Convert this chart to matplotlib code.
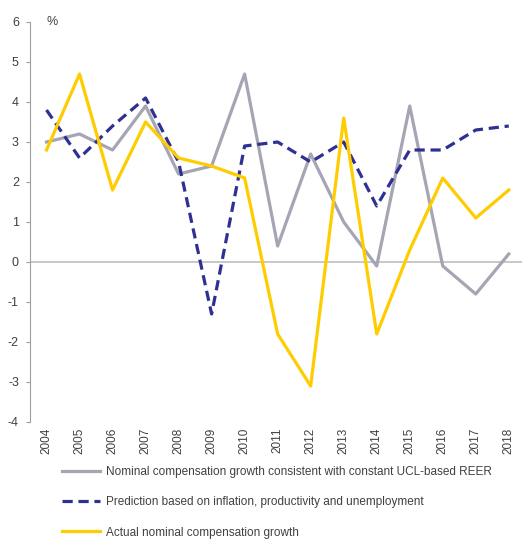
import matplotlib
matplotlib.use("Agg")
import matplotlib.pyplot as plt
import numpy as np

plt.rcParams['font.family'] = ['Liberation Sans', 'DejaVu Sans']

years = [str(y) for y in range(2004, 2019)]
consistent = [3.0, 3.2, 2.8, 3.9, 2.2, 2.4, 4.7, 0.4, 2.7, 1.0, -0.1, 3.9, -0.1, -0.8, 0.2]
prediction = [3.8, 2.6, 3.4, 4.1, 2.5, -1.3, 2.9, 3.0, 2.5, 3.0, 1.4, 2.8, 2.8, 3.3, 3.4]
actual = [2.8, 4.7, 1.8, 3.5, 2.6, 2.4, 2.1, -1.8, -3.1, 3.6, -1.8, 0.3, 2.1, 1.1, 1.8]
yticks = list(range(-4, 7))

labels = ["Nominal compensation growth consistent with constant UCL-based REER",
          "Prediction based on inflation, productivity and unemployment",
          "Actual nominal compensation growth"]

txt = '#404040'
fig = plt.figure(figsize=(5.22, 5.39), dpi=100)
ax = fig.add_axes([30/522, 1-422/539, 1-30/522, 400/539])

x = np.arange(len(years))
ax.axhline(0, color='#bfbfbf', lw=1.2, zorder=1)
ax.plot(x, consistent, color='#a5a5b4', lw=2.3, label=labels[0], zorder=2)
ax.plot(x, prediction, color='#2e3192', lw=2.3, ls=(0, (3.2, 1.8)), label=labels[1], zorder=3)
ax.plot(x, actual, color='#ffcc00', lw=2.3, label=labels[2], zorder=4)

ax.set_xlim(-0.5, 14.4)
ax.set_ylim(-4, 6)
ax.set_yticks(yticks)
ax.set_yticklabels([str(v) for v in yticks])
ax.set_xticks(x)
ax.set_xticklabels(years, rotation=90, fontsize=8.5, color=txt)
ax.tick_params(axis='y', labelsize=9, colors=txt, length=3, color='#a0a0a0', pad=5)
ax.tick_params(axis='x', length=0, pad=4)
for s in ['top', 'right', 'bottom']:
    ax.spines[s].set_visible(False)
ax.spines['left'].set_color('#a0a0a0')
ax.text(0.0, 6, '%', fontsize=9, color=txt, va='center', ha='left')

leg = fig.legend(loc='upper left', bbox_to_anchor=(62/522, 1-466/539), frameon=False,
                 fontsize=8.5, handlelength=3.2, labelspacing=1.55, handletextpad=0.5,
                 borderpad=0, borderaxespad=0)
for t in leg.get_texts():
    t.set_color(txt)

fig.savefig('out.png', dpi=100)
